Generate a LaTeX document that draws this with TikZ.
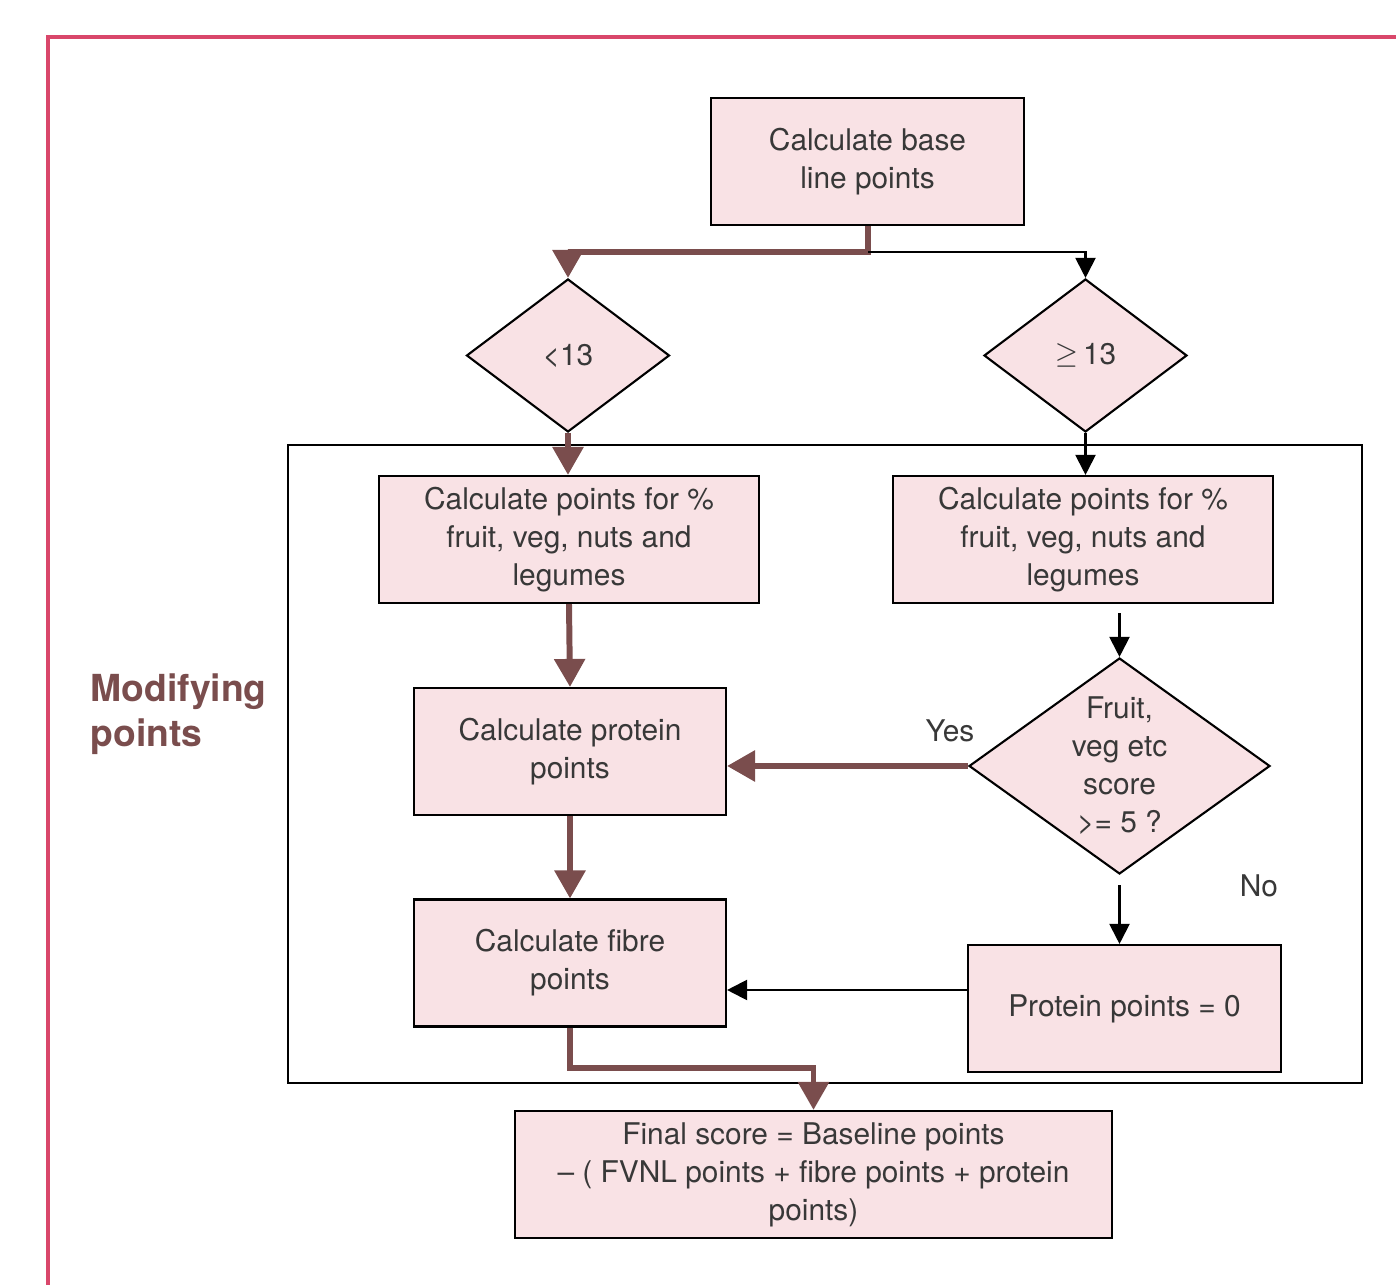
\documentclass[tikz,border=0pt]{standalone}
\usepackage{fontspec}
\setmainfont{TeX Gyre Heros}
\usetikzlibrary{positioning}
\usetikzlibrary{shapes.geometric,arrows.meta}
\definecolor{boxfill}{HTML}{F9E2E5}
\definecolor{arrbrown}{HTML}{7A4D4D}
\definecolor{framered}{HTML}{D9476B}
\definecolor{txtgray}{HTML}{383838}

\begin{document}
\begin{tikzpicture}[
 box/.style={draw=black,line width=0.6pt,fill=boxfill,text=txtgray,align=center,
   font=\fontsize{8.5}{10.8}\selectfont,inner sep=0pt,minimum height=1.27cm},
 choice/.style={diamond,draw=black,line width=0.6pt,fill=boxfill,text=txtgray,align=center,
   font=\fontsize{8.5}{10.8}\selectfont,aspect=1.4,inner sep=0pt},
 brownarrow/.style={draw=arrbrown,line width=1.7pt,-{Triangle[length=0.28cm,width=0.30cm]}},
 blackarrow/.style={draw=black,line width=0.6pt,-{Triangle[length=0.2cm,width=0.2cm]}},
 note/.style={text=txtgray,font=\fontsize{8.5}{10.8}\selectfont,inner sep=0pt}
]
 \useasboundingbox (0,0) rectangle (13.96,-12.85);
 % outer frame
 \draw[framered,line width=0.9pt](0.48,-12.85) |- (13.96,-0.37);
 % modifying area
 \draw[black,line width=0.6pt](2.88,-4.45) rectangle (13.62,-10.83);
 \node (modify) [anchor=west,align=left,text=arrbrown,inner sep=0pt,
   font=\fontsize{10.6}{12.8}\selectfont\bfseries] at (0.90,-7.14) {Modifying\\points};

 % nodes
 \node (base) [box,minimum width=3.13cm] at (8.675,-1.615) {Calculate base\\line points};
 \node (lt) [choice,minimum width=2.03cm,minimum height=1.53cm] at (5.68,-3.555) {<13};
 \node (ge) [choice,minimum width=2.03cm,minimum height=1.53cm] at (10.855,-3.555) {\raisebox{0.1ex}{$\geq$}\,13};
 \node (fvnlA) [box,minimum width=3.80cm] at (5.69,-5.395) {Calculate points for \%\\fruit, veg, nuts and\\legumes};
 \node (fvnlB) [box,minimum width=3.80cm] at (10.83,-5.395) {Calculate points for \%\\fruit, veg, nuts and\\legumes};
 \node (protein) [box,minimum width=3.12cm] at (5.70,-7.515) {Calculate protein\\points};
 \node (fibre) [box,minimum width=3.12cm] at (5.70,-9.63) {Calculate fibre\\points};
 \node (fruit) [choice,minimum width=3.01cm,minimum height=2.16cm] at (11.195,-7.66) {Fruit,\\veg etc\\score\\>= 5 ?};
 \node (zero) [box,minimum width=3.13cm] at (11.245,-10.085) {Protein points = 0};
 \node (final) [box,minimum width=5.97cm] at (8.135,-11.745) {Final score = Baseline points\\-- ( FVNL points + fibre points + protein\\points)};
 \node (yes) [note] at (9.50,-7.31) {Yes};
 \node (no) [note] at (12.59,-8.86) {No};

 % connectors
 \coordinate (split) at (8.68,-2.52);
 \coordinate (fjoin) at (5.70,-10.68);
 \draw[brownarrow] (base.south -| split) -- (split) -| (lt.north);
 \draw[blackarrow] (split) -| (ge.north);
 \draw[brownarrow] (lt.south) -- (fvnlA.north -| lt.south);
 \draw[blackarrow] (ge.south) -- (fvnlB.north -| ge.south);
 \draw[brownarrow] (fvnlA.south) -- (protein.north);
 \draw[blackarrow] ([yshift=-0.09cm]fvnlB.south -| fruit.north) -- (fruit.north);
 \draw[brownarrow] (fruit.west) -- (protein.east |- fruit.west);
 \draw[blackarrow] ([yshift=-0.1cm]fruit.south) -- (fruit.south |- zero.north);
 \draw[brownarrow] (protein.south) -- (fibre.north);
 \draw[blackarrow] ([yshift=0.185cm]zero.west) -- ([yshift=0.185cm]zero.west -| fibre.east);
 \draw[brownarrow] (fibre.south) -- (fjoin) -| (final.north);
\end{tikzpicture}
\end{document}
